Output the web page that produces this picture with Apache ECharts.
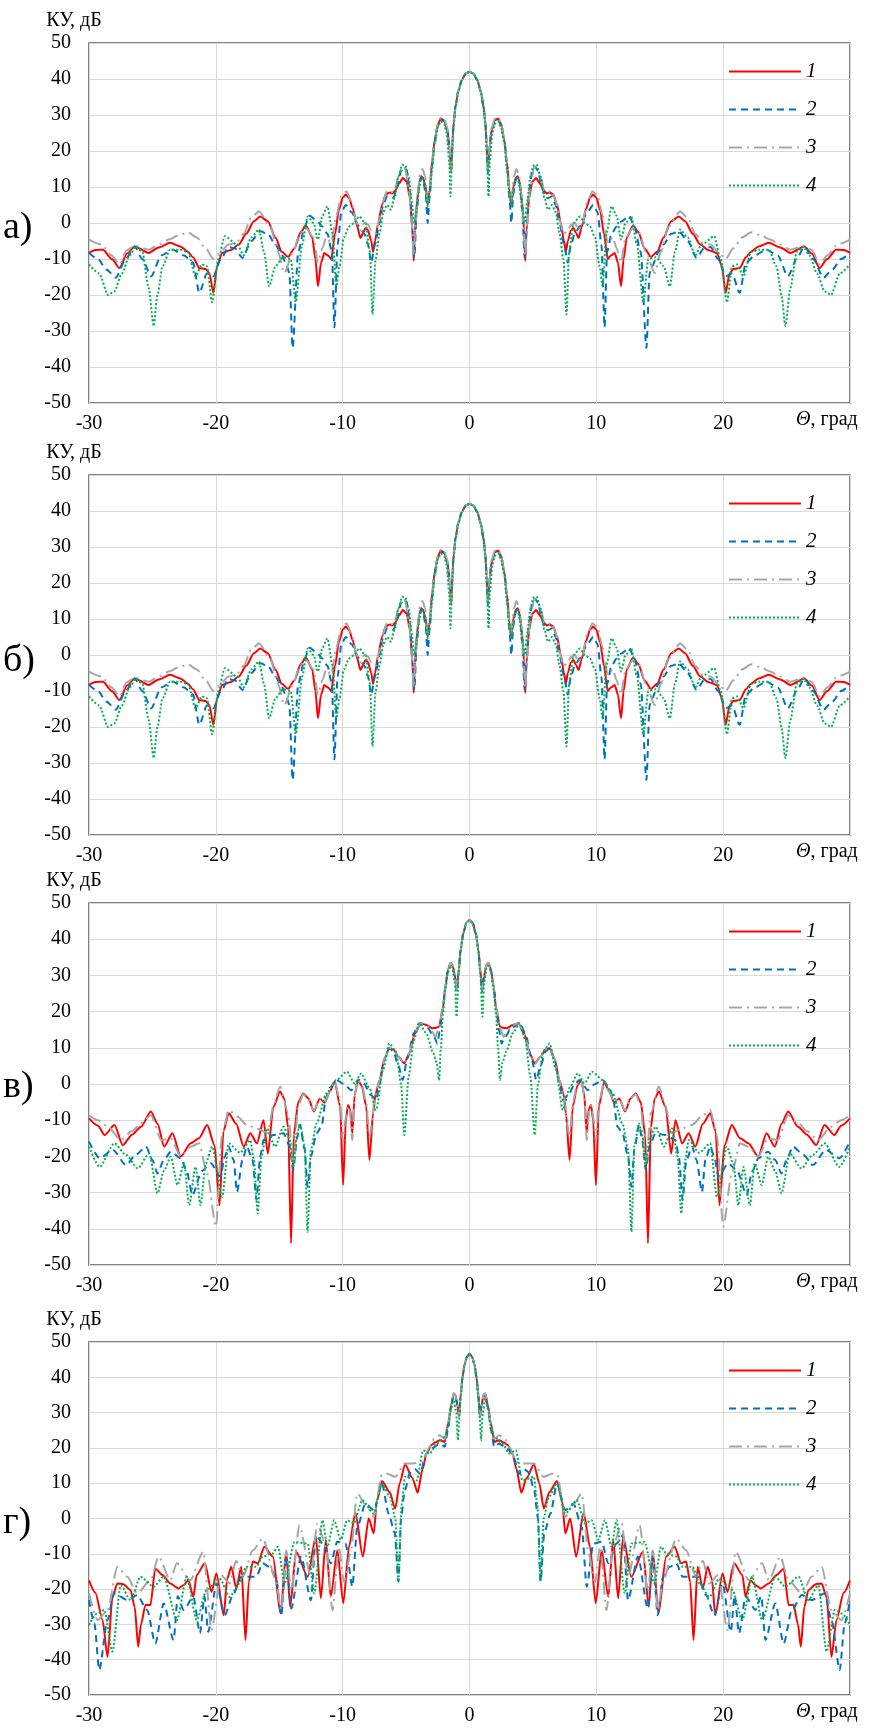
<!DOCTYPE html>
<html>
<head>
<meta charset="utf-8">
<script src="https://cdn.jsdelivr.net/npm/echarts@6/dist/echarts.min.js"></script>
<style>
  html, body { margin: 0; padding: 0; background: #fff; }
  #chart { width: 872px; height: 1733px; }
</style>
</head>
<body>
<div id="chart"></div>
<script>
// Patterns are symmetric about 0, so each curve is read for theta >= 0 and mirrored.
// Panels а) and б) show the same curves.
const seriesNames = ['1', '2', '3', '4'];
const panelLetters = ['а)', 'б)', 'в)', 'г)'];
const xTicks = [-30, -20, -10, 0, 10, 20];

// panel а / б
const aRed = [[0,42],[0.3,41.5],[0.6,39.8],[0.9,36.5],[1.1,32.5],[1.25,28],[1.35,22],[1.45,14],[1.55,20],[1.75,26],[2.0,28.5],[2.25,29],[2.5,27.5],[2.75,23],[2.95,17],[3.15,9],[3.3,5],[3.45,10],[3.65,12.5],[3.8,13],[3.95,11.5],[4.15,6],[4.3,-2],[4.4,-10.5],[4.5,-2],[4.7,7],[4.95,11.5],[5.25,12.5],[5.55,11],[5.85,9],[6.1,8.2],[6.3,8.5],[6.6,8],[6.9,5],[7.2,0],[7.45,-5],[7.6,-8],[7.75,-5],[8.0,-2],[8.2,-1.4],[8.4,-2.8],[8.6,-4.2],[8.85,-1],[9.2,4],[9.5,7],[9.75,7.9],[10.0,7],[10.3,3.5],[10.6,-3],[10.9,-10],[11.15,-9],[11.45,-8.3],[11.7,-11],[11.95,-17.6],[12.15,-10],[12.4,-4],[12.9,-0.7],[13.3,-2.5],[13.8,-7],[14.3,-9.4],[14.8,-8],[15.3,-4],[15.9,0.5],[16.5,1.8],[17.0,0.5],[17.6,-3],[18.2,-6],[18.8,-7.5],[19.5,-8.3],[19.9,-12],[20.2,-19.4],[20.5,-14],[20.8,-12.8],[21.3,-12.5],[21.8,-9.5],[22.2,-8],[22.8,-6.5],[23.6,-5.5],[24.5,-6.8],[25.3,-8.3],[26.4,-6.5],[27.0,-8.5],[27.6,-12.5],[28.2,-10],[28.9,-7.4],[29.5,-7.5],[30,-8.3]];
const aBlue = [[0,42],[0.3,41.5],[0.6,39.8],[0.9,36.5],[1.1,32.5],[1.25,28],[1.35,22],[1.45,14],[1.55,20],[1.75,26],[2.0,28.3],[2.25,28.7],[2.5,27],[2.75,22.5],[2.95,16],[3.15,7],[3.3,0],[3.45,8],[3.65,12],[3.8,12.8],[3.95,11],[4.15,4],[4.35,-9.7],[4.5,-2],[4.7,9],[4.95,14.5],[5.15,15.7],[5.4,14.5],[5.7,10],[6.0,7],[6.2,6.9],[6.5,7.4],[6.8,5],[7.1,0],[7.45,-6],[7.75,-11],[8.0,-6],[8.3,-3],[8.7,-0.9],[9.3,3],[9.75,5],[10.1,3],[10.4,-6],[10.65,-29],[10.85,-8],[11.2,-3],[11.6,-1],[12.0,0.5],[12.6,2],[13.0,-1],[13.5,-8],[13.95,-34.7],[14.2,-14],[14.4,-12],[14.9,-8],[15.3,-6],[15.9,-3],[16.5,-2.3],[17.2,-5],[17.9,-9.7],[18.5,-7],[19.0,-6.7],[19.6,-10],[20.2,-14.8],[20.7,-14],[21.3,-19.4],[21.8,-11],[22.5,-9],[23.4,-7.4],[24.3,-9],[25.1,-14.8],[25.8,-10],[26.4,-6.5],[27.1,-10],[27.9,-15.2],[28.6,-13],[29.3,-10],[30,-8.3]];
const aGray = [[0,42],[0.3,41.5],[0.6,39.8],[0.9,36.5],[1.1,32.5],[1.25,28],[1.35,22],[1.45,14.5],[1.55,20],[1.75,26.5],[2.0,29],[2.25,29.3],[2.5,27.5],[2.75,23],[2.95,17],[3.15,9],[3.3,6],[3.5,13],[3.7,15],[3.9,13.5],[4.1,8],[4.3,-3],[4.4,-9],[4.55,0],[4.8,10],[5.1,15.5],[5.3,15.7],[5.6,13],[5.9,9],[6.2,8.5],[6.5,9],[6.8,6],[7.1,1],[7.4,-3],[7.7,-2.5],[8.0,-0.5],[8.3,0],[8.6,-2],[8.9,0],[9.3,6],[9.7,8.8],[10.1,7.5],[10.5,2],[10.9,-5.5],[11.3,-4],[11.6,-7],[11.95,-11],[12.3,-4],[12.9,-1.4],[13.4,-3],[13.9,-8],[14.6,-13.9],[15.1,-8],[15.7,-1],[16.6,3.2],[17.2,1.5],[17.8,-3],[18.4,-5.5],[19.0,-6],[19.6,-8],[20.2,-10],[20.8,-7],[21.5,-4],[22.2,-2.6],[23.0,-3.5],[23.7,-4.6],[24.5,-6],[25.3,-7.4],[26.4,-6.3],[27.0,-7.5],[27.6,-11.5],[28.2,-9],[29.0,-6],[30,-4.6]];
const aGreen = [[0,42],[0.3,41.5],[0.6,39.8],[0.9,36.3],[1.1,32],[1.25,27],[1.38,18],[1.5,7.4],[1.6,17],[1.8,25],[2.0,27.5],[2.25,28.2],[2.5,26.5],[2.75,22],[2.95,15],[3.15,8],[3.3,4.6],[3.45,9],[3.65,12],[3.8,12.5],[3.95,10],[4.15,4],[4.35,0],[4.55,6],[4.8,13],[5.05,16],[5.3,16.2],[5.6,13],[5.9,7],[6.2,3.7],[6.5,5],[6.8,3],[7.1,-3],[7.4,-10],[7.65,-25.4],[7.85,-8],[8.2,0],[8.7,1.8],[9.1,0],[9.5,-1],[9.9,-4],[10.25,-12],[10.5,-17.6],[10.8,-3],[11.2,4.6],[11.6,2],[11.95,-4.6],[12.3,0],[12.75,1.8],[13.2,-6],[13.7,-22],[14.1,-10],[14.7,-9.5],[15.3,-12],[15.8,-17.6],[16.2,-8],[16.6,-1.8],[17.2,-4],[17.8,-9],[18.3,-6],[19.3,-3.7],[19.8,-10],[20.3,-22],[20.7,-12],[21.1,-11.5],[21.6,-14.8],[22.2,-8],[22.8,-7.4],[23.6,-7.4],[24.2,-12],[24.6,-20],[24.9,-28.6],[25.3,-18],[25.8,-8],[26.3,-6.5],[26.8,-9],[27.4,-14],[28.0,-19],[28.5,-20],[29.2,-14],[30,-11.5]];

// panel в
const vRed = [[0,45.3],[0.25,44.5],[0.5,41.5],[0.7,37],[0.85,31.5],[1.0,26],[1.15,30],[1.35,33],[1.5,33.4],[1.7,31.5],[1.9,27],[2.1,21],[2.4,15.8],[2.7,15.5],[2.95,15.4],[3.4,16.3],[3.85,16.8],[4.3,14],[4.75,8.5],[5.14,5.7],[5.6,7.5],[6.0,9.5],[6.32,9.9],[6.7,7],[7.1,1],[7.4,-2.6],[7.6,-8],[7.89,-21],[8.15,-6],[8.5,-0.5],[8.8,1.1],[9.05,-3],[9.24,-13.6],[9.4,-7],[9.58,-5.8],[9.75,-10],[9.97,-27.9],[10.2,-6],[10.63,0.6],[11.0,-2],[11.41,-5.2],[11.8,-4],[12.27,-7.6],[12.7,-4],[13.1,-2.6],[13.5,-5],[13.85,-14],[14.07,-44],[14.3,-12],[14.6,-4],[14.93,-2.1],[15.46,-6.3],[15.9,-19.2],[16.24,-10],[16.76,-16.4],[17.28,-13.6],[17.8,-17.3],[18.4,-11],[18.98,-8.1],[19.4,-13],[19.71,-33.5],[20.1,-17],[20.68,-11.3],[21.33,-15],[21.98,-16.4],[22.77,-20],[23.42,-13.6],[24.07,-17.3],[24.6,-11],[25.12,-7.6],[25.9,-11.8],[26.6,-14],[27.34,-16.9],[27.99,-11.3],[28.77,-14.1],[29.3,-11.5],[30,-9.5]];
const vBlue = [[0,45.3],[0.25,44.5],[0.5,41.5],[0.7,37],[0.85,31.5],[1.0,25.5],[1.15,29.5],[1.35,32.8],[1.5,33.2],[1.7,31.3],[1.9,27],[2.1,21],[2.35,14.5],[2.53,11.2],[2.8,13],[3.3,15.5],[3.97,16.8],[4.4,14],[4.9,7],[5.27,1.1],[5.6,5],[6.0,9],[6.32,9.9],[6.7,7],[7.1,0],[7.36,-4.4],[7.8,-3],[8.3,0],[8.67,1.1],[9.0,-0.5],[9.32,-1.7],[9.9,0],[10.5,1.1],[11.0,-1],[11.3,-3.5],[11.67,-11.8],[12.06,-13.6],[12.5,-20],[12.77,-28.4],[13.0,-18],[13.37,-11.3],[13.6,-15],[13.9,-23.8],[14.2,-17],[14.67,-13.6],[15.46,-14.1],[16.24,-15.5],[16.5,-20],[16.8,-32],[17.1,-21],[17.55,-17.3],[17.9,-21],[18.33,-29.8],[18.6,-21],[18.98,-17.3],[19.3,-20],[19.63,-25.6],[20.4,-21.9],[21.1,-24],[21.85,-30.7],[22.3,-24],[22.77,-20.5],[23.55,-18.7],[24.1,-21],[24.6,-24.7],[25.0,-21],[25.5,-17.3],[26.3,-19.5],[27.08,-22.4],[28.1,-18.2],[29.16,-20.5],[30,-15.9]];
const vGray = [[0,45.3],[0.25,44.5],[0.5,41.5],[0.7,37],[0.85,31.5],[1.0,26],[1.15,30],[1.35,33],[1.5,33.4],[1.7,31.5],[1.9,27],[2.1,21],[2.4,15.5],[2.7,13],[2.95,14.5],[3.4,16.3],[3.85,16.8],[4.3,14],[4.75,8.5],[5.14,5.5],[5.6,7.5],[6.0,9.5],[6.32,10],[6.7,7],[7.1,1],[7.4,-3],[7.89,-14.6],[8.15,-5],[8.5,0],[8.8,1],[9.05,-3],[9.24,-15.5],[9.45,-7],[9.6,-6],[9.8,-10],[9.97,-16],[10.2,-5],[10.63,0.8],[11.0,-2],[11.41,-5],[11.8,-4],[12.27,-7.3],[12.7,-4],[13.1,-2.8],[13.5,-6],[13.9,-22],[14.3,-8],[14.93,-0.7],[15.46,-6],[15.9,-13.6],[16.76,-12.3],[17.55,-11.3],[18.3,-9],[18.98,-7.2],[19.5,-14],[20.0,-39.4],[20.68,-24.7],[21.33,-16.4],[21.98,-17.3],[22.77,-20],[23.55,-15],[24.3,-15.5],[25.12,-8.6],[25.9,-10.8],[26.6,-13],[27.5,-15.5],[28.5,-11.8],[29.3,-10],[30,-8.6]];
const vGreen = [[0,45.3],[0.25,44.5],[0.5,41.5],[0.7,37],[0.85,30.5],[1.02,18.6],[1.15,28],[1.35,32.3],[1.5,32.6],[1.7,30.8],[1.9,26],[2.1,19],[2.25,10],[2.4,1.1],[2.6,6],[2.9,9],[3.4,14],[3.97,16.8],[4.4,12],[4.8,2],[5.14,-14.1],[5.4,0],[5.8,9],[6.32,11.2],[6.8,4],[7.36,-7.2],[7.9,-1],[8.54,2.9],[9.06,0.2],[9.66,3.4],[10.5,1.1],[11.28,-2.6],[12.06,-10.9],[12.5,-18],[12.77,-40.8],[13.0,-17],[13.37,-10.9],[13.6,-14],[13.9,-22.9],[14.2,-15],[14.67,-11.8],[15.33,-17.3],[15.98,-12.3],[16.4,-20],[16.7,-35.8],[17.0,-21],[17.28,-15.5],[18.1,-19],[18.98,-16.4],[19.5,-31.2],[20.29,-17.3],[20.8,-22],[21.2,-33.5],[21.6,-22.9],[22.1,-33.5],[22.5,-21.9],[23.03,-27.9],[23.55,-20.1],[24.1,-24],[24.6,-30.2],[25.25,-19.2],[26.16,-23.3],[27.1,-19.5],[28.0,-16.4],[29.16,-22.9],[30,-17.3]];

// panel г
const gRed = [[0,46.7],[0.2,45.8],[0.4,43.5],[0.55,40],[0.7,35],[0.83,28.8],[0.95,32],[1.1,35],[1.25,35.4],[1.45,32],[1.69,26.9],[1.95,21.7],[2.34,22.2],[2.7,21.5],[3.0,20.8],[3.39,18.4],[3.7,14],[4.09,7.3],[4.5,11.5],[5.08,15.4],[5.5,10],[5.86,2.8],[6.3,7.5],[6.9,10.6],[7.3,5],[7.55,-4.2],[7.94,0],[8.41,-10.8],[9.0,1.6],[9.5,-8],[9.95,-24],[10.42,-9],[10.94,-22.2],[11.33,-6.1],[11.72,-22.6],[12.11,-5.2],[12.76,-16.5],[13.67,-9.4],[14.14,-25],[14.45,-9.4],[14.9,-26.9],[15.5,-10.8],[16.17,-8],[16.69,-12.7],[17.08,-12.2],[17.4,-18],[17.66,-34.4],[17.99,-13.7],[18.39,-19.8],[18.78,-13.7],[19.1,-17],[19.38,-27.4],[19.95,-15.6],[20.34,-20.8],[20.86,-12.7],[21.51,-16],[21.77,-22.2],[22.16,-17.5],[22.55,-18.9],[22.94,-19.8],[23.59,-18.4],[24.2,-16],[24.77,-14.2],[25.16,-24.5],[25.55,-24.5],[25.9,-30],[26.12,-36.3],[26.4,-25],[26.72,-20.3],[27.3,-18.6],[27.76,-18.4],[28.15,-22.2],[28.54,-39.2],[28.93,-28.8],[29.5,-21],[30,-17.5]];
const gBlue = [[0,46.7],[0.2,45.8],[0.4,43.5],[0.55,40],[0.7,35],[0.8,29.6],[0.95,32],[1.1,34.5],[1.25,34.9],[1.45,31.5],[1.7,25],[1.95,20.3],[2.34,21.2],[2.9,20],[3.39,18.4],[3.9,12.7],[4.3,14],[4.69,13],[5.1,8],[5.4,0],[5.6,-17.9],[5.9,-4],[6.38,1.4],[6.9,9.9],[7.55,2.4],[8.2,4.2],[8.85,-2.4],[9.24,-19.3],[9.77,-7.1],[10.42,-6.6],[10.94,-12.7],[11.59,-7.1],[12.11,-4.7],[12.5,-23.1],[13.28,-10.8],[14.06,-25.5],[14.45,-10.8],[14.84,-27.4],[15.26,-16.5],[15.78,-13.7],[16.3,-12.7],[16.82,-16.5],[17.34,-16.5],[17.99,-16.5],[18.65,-21.7],[19.3,-27.4],[19.95,-18.4],[20.6,-32.1],[20.9,-22],[21.25,-32.5],[21.77,-22.2],[22.55,-25.9],[23.0,-22],[23.33,-34.4],[24.11,-24.1],[24.77,-35.4],[25.42,-25.9],[26.2,-21.7],[26.98,-23.1],[28.02,-21.2],[28.54,-28.8],[29.19,-42.9],[29.58,-29.7],[30,-23.1]];
const gGray = [[0,46.7],[0.2,45.8],[0.4,43.5],[0.55,40],[0.7,35],[0.83,29],[0.95,32],[1.1,35],[1.25,35.5],[1.45,32],[1.7,26.5],[1.95,22.5],[2.34,23.6],[2.8,22.5],[3.13,20.3],[3.7,16],[4.43,15.6],[5.08,15.6],[5.86,11.8],[6.51,12.7],[6.9,12.5],[7.55,0.5],[8.2,4],[8.85,7.1],[9.38,-9.9],[9.9,-18],[10.3,-8],[10.8,-26],[11.3,-8],[12.0,-1.4],[12.5,-16.5],[13.41,-1.9],[14.06,-20.3],[14.45,-9],[14.84,-26],[15.26,-17.5],[16.3,-5.7],[17.08,-9],[17.86,-16.5],[18.4,-12],[18.9,-18.4],[19.6,-16],[20.34,-31.6],[20.99,-9.4],[22.03,-17.5],[23.07,-12.7],[23.59,-17.5],[24.5,-10.8],[25.16,-17.5],[26.2,-21.2],[26.98,-16.5],[27.76,-13.7],[28.54,-26],[29.32,-28.8],[30,-21.2]];
const gGreen = [[0,46.7],[0.2,45.8],[0.4,43.5],[0.55,40],[0.7,34],[0.82,28],[0.91,22.2],[1.05,30],[1.25,34],[1.45,31],[1.7,26],[1.95,23.1],[2.6,21.2],[3.13,18.4],[3.65,19.3],[4.17,10.8],[5.08,11.8],[5.35,4],[5.6,-17.5],[5.85,0],[6.25,6.1],[6.9,9.9],[7.55,1.4],[8.46,5.2],[9.11,-1.4],[9.64,-0.5],[10.15,-6],[10.68,-0.5],[11.2,-8],[11.59,-0.5],[12.24,-21.2],[12.76,-7.1],[13.8,-6.6],[14.58,-18.4],[15.1,-8],[15.52,-9.9],[16.3,-10.8],[16.82,-13.7],[17.6,-13.7],[18.13,-18.4],[18.91,-22.2],[19.69,-17],[20.73,-20.3],[21.51,-28.8],[22.29,-16.5],[23.07,-28.8],[24.11,-16.5],[24.9,-19.3],[25.94,-16.5],[26.72,-23.1],[27.5,-18.9],[28.15,-37.7],[28.8,-25.9],[29.4,-27],[30,-30.2]];

const panelData = [
  [aRed, aBlue, aGray, aGreen],
  [aRed, aBlue, aGray, aGreen],
  [vRed, vBlue, vGray, vGreen],
  [gRed, gBlue, gGray, gGreen]
];

// layout of the four plot areas, px
const gridTops = [43, 475, 903, 1342];
const gridHeights = [360, 360, 362, 353];
const letterY = [230, 663, 1089, 1525];

const FONT = '"Liberation Serif", "Times New Roman", serif';
const FS = 20;

const lineStyles = [
  { color: '#ff0000', width: 2, type: 'solid' },
  { color: '#0070c0', width: 2, type: [7, 5] },
  { color: '#a6a6a6', width: 2, type: [13, 5, 2, 5] },
  { color: '#00b050', width: 2, type: [2, 2] }
];

function mirror(half) {
  const left = half.filter(p => p[0] > 0).map(p => [-p[0], p[1]]).reverse();
  return left.concat(half);
}

const chart = echarts.init(document.getElementById('chart'), null, { renderer: 'canvas' });

const grid = [], xAxis = [], yAxis = [], series = [], legend = [], graphic = [];

gridTops.forEach((top, i) => {
  grid.push({
    left: 89, right: 22, top: top, height: gridHeights[i],
    show: true, borderColor: '#595959', borderWidth: 1.5, backgroundColor: 'transparent'
  });

  xAxis.push({
    type: 'value', gridIndex: i, min: -30, max: 30, interval: 10,
    axisLine: { show: false, onZero: false }, axisTick: { show: false },
    splitLine: { show: true, lineStyle: { color: '#d9d9d9', width: 1 } },
    axisLabel: {
      margin: 11, fontFamily: FONT, fontSize: FS, color: '#000',
      formatter: v => (xTicks.indexOf(v) >= 0 ? String(v) : '')
    },
    name: '{th|Θ}, град',
    nameLocation: 'end',
    nameGap: -54,
    nameTextStyle: {
      fontFamily: FONT, fontSize: FS, color: '#000',
      align: 'left', verticalAlign: 'top', padding: [7, 0, 0, 0],
      rich: { th: { fontFamily: FONT, fontSize: FS, fontStyle: 'italic', color: '#000' } }
    }
  });

  yAxis.push({
    type: 'value', gridIndex: i, min: -50, max: 50, interval: 10,
    axisLine: { show: false, onZero: false }, axisTick: { show: false },
    splitLine: { show: true, lineStyle: { color: '#d9d9d9', width: 1 } },
    axisLabel: { margin: 18, fontFamily: FONT, fontSize: FS, color: '#000' },
    name: 'КУ, дБ',
    nameLocation: 'end',
    nameGap: 12,
    nameTextStyle: {
      fontFamily: FONT, fontSize: FS, color: '#000',
      align: 'center', padding: [0, 30, 0, 0]
    }
  });

  panelData[i].forEach((half, k) => {
    series.push({
      name: seriesNames[k],
      type: 'line',
      xAxisIndex: i, yAxisIndex: i,
      data: mirror(half),
      showSymbol: false, symbol: 'none',
      smooth: 0.25, smoothMonotone: 'x',
      lineStyle: lineStyles[k],
      itemStyle: { color: lineStyles[k].color },
      emphasis: { disabled: true },
      z: 2 + k
    });
  });

  legend.push({
    data: seriesNames,
    orient: 'vertical',
    left: 723, top: top + 13,
    itemWidth: 72, itemHeight: 14, itemGap: 17,
    selectedMode: false,
    itemStyle: { opacity: 0 },
    textStyle: { fontFamily: FONT, fontSize: 21, fontStyle: 'italic', color: '#000', lineHeight: 14 }
  });

  graphic.push({
    type: 'text', left: 3, top: letterY[i] - 21,
    style: { text: panelLetters[i], font: '38px ' + FONT, fill: '#000' }
  });
});

chart.setOption({
  animation: false,
  backgroundColor: '#fff',
  grid, xAxis, yAxis, series, legend, graphic
});
</script>
</body>
</html>
